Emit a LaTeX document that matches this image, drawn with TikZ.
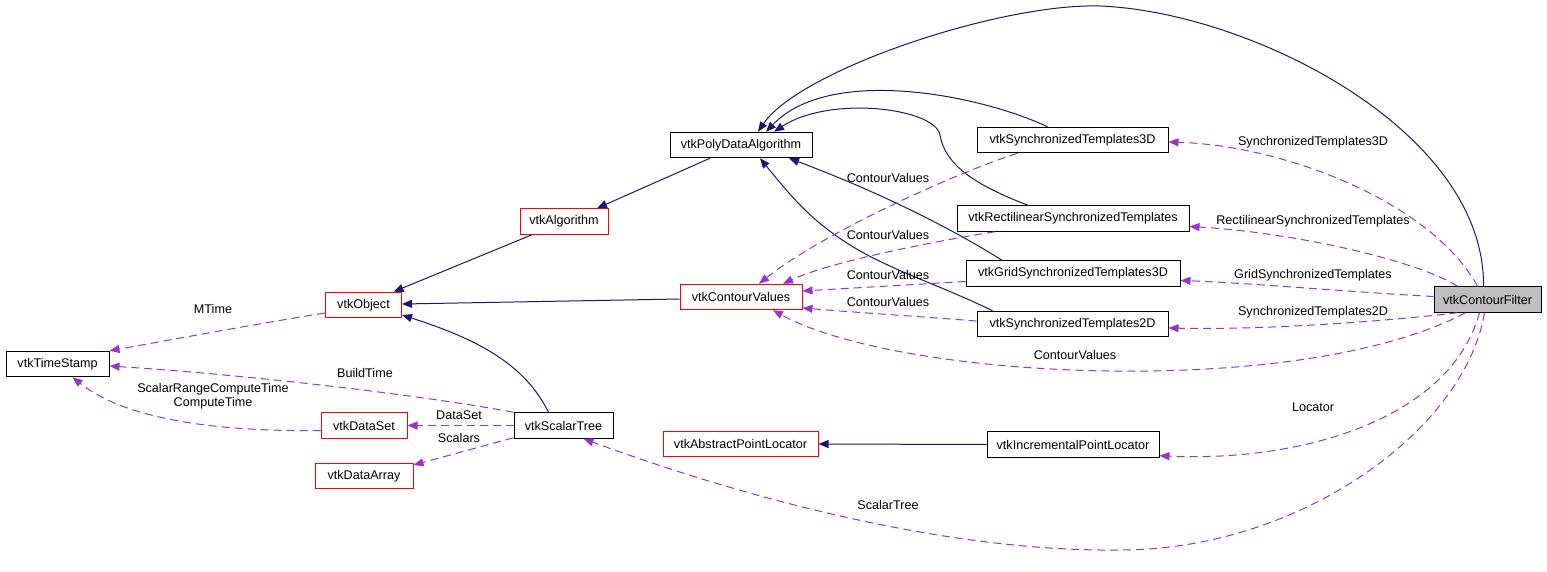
\documentclass[tikz,border=0pt]{standalone}
\usepackage{fontspec}
\setmainfont{Liberation Sans}
\usetikzlibrary{arrows.meta,calc}
\definecolor{inhblue}{HTML}{191970}
\definecolor{usepurple}{HTML}{9A32CD}
\definecolor{nodegray}{HTML}{BFBFBF}
\begin{document}
\begin{tikzpicture}[x=1pt,y=-1pt,
  every node/.style={font=\fontsize{12.6}{14}\selectfont},
  cls/.style={draw=black, line width=1pt, fill=white, inner sep=0pt, minimum height=25.5pt},
  redcls/.style={cls, draw=red},
  graycls/.style={cls, fill=nodegray},
  lbl/.style={inner sep=0pt, align=center},
  inh/.style={draw=inhblue, line width=1pt, -{Triangle[length=10pt,width=8pt]}},
  use/.style={draw=usepurple, line width=1pt, dash pattern=on 8pt off 5pt, -{Triangle[length=10pt,width=8pt]}}]
\useasboundingbox (0,0) rectangle (1547,571);
\fill[white] (0,0) rectangle (1547,571);

% nodes
\node[cls, minimum width=103pt] (ts) at (57.5,364) {vtkTimeStamp};
\node[redcls, minimum width=76pt] (obj) at (363.5,305) {vtkObject};
\node[redcls, minimum width=88pt] (alg) at (564,221.5) {vtkAlgorithm};
\node[cls, minimum width=142pt] (pda) at (741,145) {vtkPolyDataAlgorithm};
\node[redcls, minimum width=122pt] (cv) at (741,297) {vtkContourValues};
\node[redcls, minimum width=86pt] (ds) at (364,425.5) {vtkDataSet};
\node[redcls, minimum width=98pt] (da) at (364,476) {vtkDataArray};
\node[cls, minimum width=99pt] (st) at (563.5,425.5) {vtkScalarTree};
\node[redcls, minimum width=155pt] (apl) at (740.5,444) {vtkAbstractPointLocator};
\node[cls, minimum width=172pt] (ipl) at (1073,444.5) {vtkIncrementalPointLocator};
\node[cls, minimum width=191pt] (s3) at (1072.5,140) {vtkSynchronizedTemplates3D};
\node[cls, minimum width=232pt] (rect) at (1073,218.5) {vtkRectilinearSynchronizedTemplates};
\node[cls, minimum width=214pt] (grid) at (1073,273.5) {vtkGridSynchronizedTemplates3D};
\node[cls, minimum width=191pt] (s2) at (1072.5,324) {vtkSynchronizedTemplates2D};
\node[graycls, minimum width=107pt] (cf) at (1487.5,299.5) {vtkContourFilter};

% inheritance edges
\draw[inh] ($(cf.north)+(-4,0)$) .. controls (1485,130) and (1250,12) .. (1100,6)
  .. controls (1000,3) and (800,70) .. ($(pda.north)+(17,0)$);
\draw[inh] ($(s3.north)+(-25,0)$) .. controls (980,95) and (830,65) .. ($(pda.north)+(25,0)$);
\draw[inh] ($(rect.north)+(-45,0)$) .. controls (975,185) and (945,165) .. (940,135)
  .. controls (935,108) and (830,95) .. ($(pda.north)+(33,0)$);
\draw[inh] ($(grid.north)+(-71,0)$) .. controls (970,240) and (900,200) .. ($(pda.south)+(48,0)$);
\draw[inh] ($(s2.north)+(-80,0)$) .. controls (940,285) and (890,270) .. (850,245)
  .. controls (810,220) and (790,195) .. ($(pda.south)+(19,0)$);
\draw[inh] ($(pda.south)+(-31,0)$) -- ($(alg.north)+(33,0)$);
\draw[inh] ($(alg.south)+(-32,0)$) -- ($(obj.north)+(30,0)$);
\draw[inh] ($(cv.west)+(0,2)$) -- ($(obj.east)+(0,-1)$);
\draw[inh] ($(st.north)+(-15,0)$) .. controls (525,365) and (480,340) .. ($(obj.east)+(0,10)$);
\draw[inh] (ipl.west) -- (apl.east);

% usage edges
\draw[use] ($(s3.south)+(-55,0)$) .. controls (950,175) and (820,235) .. ($(cv.north)+(18,0)$);
\draw[use] ($(rect.south)+(-78,0)$) .. controls (930,242) and (830,262) .. ($(cv.north)+(42,0)$);
\draw[use] ($(grid.west)+(0,8)$) -- ($(cv.east)+(0,-6)$);
\draw[use] ($(s2.west)+(0,-3)$) .. controls (940,318) and (850,312) .. ($(cv.east)+(0,11)$);
\draw[use] ($(cf.south)+(-22,0)$) .. controls (1300,400) and (900,380) .. ($(cv.south)+(32,0)$);
\draw[use] ($(cf.north)+(-10,0)$) .. controls (1430,200) and (1280,145) .. ($(s3.east)+(0,2)$);
\draw[use] ($(cf.north)+(-30,0)$) .. controls (1420,262) and (1300,233) .. ($(rect.east)+(0,8)$);
\draw[use] ($(cf.west)+(0,-3)$) .. controls (1350,292) and (1250,283) .. ($(grid.east)+(0,7)$);
\draw[use] ($(cf.south)+(-30,0)$) .. controls (1380,322) and (1260,330) .. ($(s2.east)+(0,4)$);
\draw[use] ($(cf.south)+(-8,0)$) .. controls (1450,420) and (1300,462) .. ($(ipl.south east)+(0,-2)$);
\draw[use] ($(cf.south)+(-3,0)$) .. controls (1465,430) and (1300,550) .. (1120,550)
  .. controls (950,552) and (750,500) .. ($(st.south)+(20,0)$);
\draw[use] ($(obj.west)+(0,8)$) .. controls (250,325) and (170,340) .. (ts.north east);
\draw[use] (st.north west) .. controls (420,395) and (250,375) .. ($(ts.east)+(0,2)$);
\draw[use] ($(ds.west)+(0,5)$) .. controls (200,432) and (120,415) .. ($(ts.south)+(15,0)$);
\draw[use] (st.west) -- (ds.east);
\draw[use] ($(st.south west)+(0,-1)$) -- ($(da.east)+(0,-11)$);

% labels
\node[lbl] (l1) at (888,178) {ContourValues};
\node[lbl] (l2) at (888,235) {ContourValues};
\node[lbl] (l3) at (888,275) {ContourValues};
\node[lbl] (l4) at (888,302) {ContourValues};
\node[lbl] (l5) at (1075,355) {ContourValues};
\node[lbl] (l6) at (1313,142) {SynchronizedTemplates3D};
\node[lbl] (l7) at (1313,221) {RectilinearSynchronizedTemplates};
\node[lbl] (l8) at (1313,275) {GridSynchronizedTemplates};
\node[lbl] (l9) at (1313,312) {SynchronizedTemplates2D};
\node[lbl] (l10) at (1313,407) {Locator};
\node[lbl] (l11) at (888,505) {ScalarTree};
\node[lbl] (l12) at (213,309) {MTime};
\node[lbl] (l13) at (365,373) {BuildTime};
\node[lbl] (l14) at (213,396) {ScalarRangeComputeTime\\ComputeTime};
\node[lbl] (l15) at (459,415) {DataSet};
\node[lbl] (l16) at (459,438) {Scalars};
\end{tikzpicture}
\end{document}
